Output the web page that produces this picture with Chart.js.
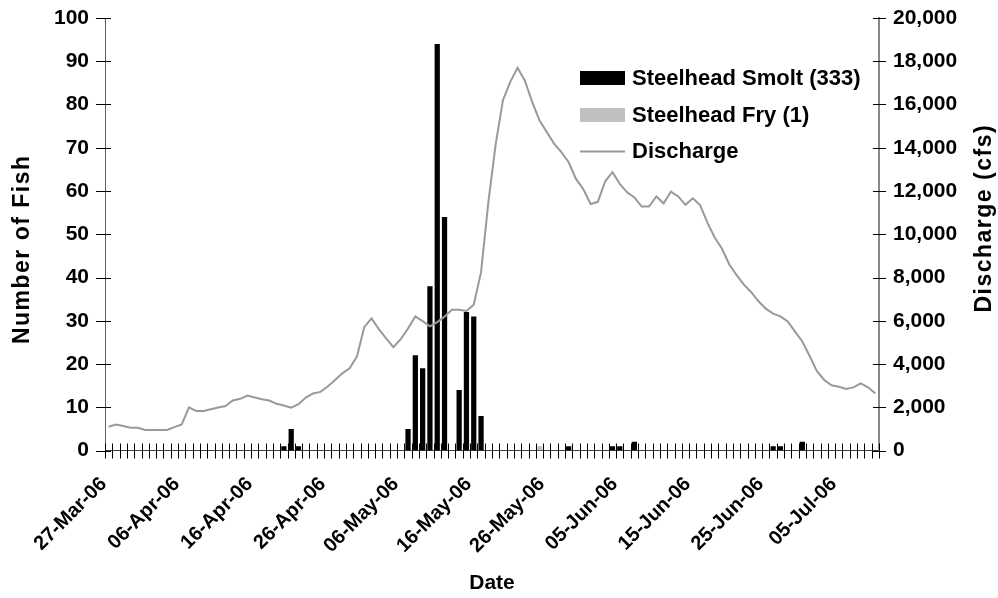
<!DOCTYPE html>
<html>
<head>
<meta charset="utf-8">
<script src="https://cdn.jsdelivr.net/npm/chart.js@4.4.1/dist/chart.umd.min.js"></script>
<style>
    html, body { margin: 0; padding: 0; background: #ffffff; }
    #wrap { width: 998px; height: 598px; }
</style>
</head>
<body>
<div id="wrap"><canvas id="fish_graph" width="998" height="598"></canvas></div>
<script>
// 日付 (27-Mar-06 〜 10-Jul-06)
const dates = [
    '27-Mar-06', '28-Mar-06', '29-Mar-06', '30-Mar-06', '31-Mar-06',
    '01-Apr-06', '02-Apr-06', '03-Apr-06', '04-Apr-06', '05-Apr-06', '06-Apr-06', '07-Apr-06', '08-Apr-06', '09-Apr-06', '10-Apr-06',
    '11-Apr-06', '12-Apr-06', '13-Apr-06', '14-Apr-06', '15-Apr-06', '16-Apr-06', '17-Apr-06', '18-Apr-06', '19-Apr-06', '20-Apr-06',
    '21-Apr-06', '22-Apr-06', '23-Apr-06', '24-Apr-06', '25-Apr-06', '26-Apr-06', '27-Apr-06', '28-Apr-06', '29-Apr-06', '30-Apr-06',
    '01-May-06', '02-May-06', '03-May-06', '04-May-06', '05-May-06', '06-May-06', '07-May-06', '08-May-06', '09-May-06', '10-May-06',
    '11-May-06', '12-May-06', '13-May-06', '14-May-06', '15-May-06', '16-May-06', '17-May-06', '18-May-06', '19-May-06', '20-May-06',
    '21-May-06', '22-May-06', '23-May-06', '24-May-06', '25-May-06', '26-May-06', '27-May-06', '28-May-06', '29-May-06', '30-May-06', '31-May-06',
    '01-Jun-06', '02-Jun-06', '03-Jun-06', '04-Jun-06', '05-Jun-06', '06-Jun-06', '07-Jun-06', '08-Jun-06', '09-Jun-06', '10-Jun-06',
    '11-Jun-06', '12-Jun-06', '13-Jun-06', '14-Jun-06', '15-Jun-06', '16-Jun-06', '17-Jun-06', '18-Jun-06', '19-Jun-06', '20-Jun-06',
    '21-Jun-06', '22-Jun-06', '23-Jun-06', '24-Jun-06', '25-Jun-06', '26-Jun-06', '27-Jun-06', '28-Jun-06', '29-Jun-06', '30-Jun-06',
    '01-Jul-06', '02-Jul-06', '03-Jul-06', '04-Jul-06', '05-Jul-06', '06-Jul-06', '07-Jul-06', '08-Jul-06', '09-Jul-06', '10-Jul-06'
];

// x軸に表示するラベル
const tickLabels = [
    '27-Mar-06', '06-Apr-06', '16-Apr-06', '26-Apr-06', '06-May-06', '16-May-06',
    '26-May-06', '05-Jun-06', '15-Jun-06', '25-Jun-06', '05-Jul-06'
];

// 1日あたりの捕獲数
const smolt = [
    0, 0, 0, 0, 0, 0, 0, 0, 0, 0,
    0, 0, 0, 0, 0, 0, 0, 0, 0, 0,
    0, 0, 0, 0, 1, 5, 1, 0, 0, 0,
    0, 0, 0, 0, 0, 0, 0, 0, 0, 0,
    0, 5, 22, 19, 38, 94, 54, 0, 14, 32,
    31, 8, 0, 0, 0, 0, 0, 0, 0, 0,
    0, 0, 0, 1, 0, 0, 0, 0, 0, 1,
    1, 0, 2, 0, 0, 0, 0, 0, 0, 0,
    0, 0, 0, 0, 0, 0, 0, 0, 0, 0,
    0, 1, 1, 0, 0, 2, 0, 0, 0, 0,
    0, 0, 0, 0, 0, 0
];
const fry = [
    0, 0, 0, 0, 0, 0, 0, 0, 0, 0,
    0, 0, 0, 0, 0, 0, 0, 0, 0, 0,
    0, 0, 0, 0, 0, 0, 0, 0, 0, 0,
    0, 0, 0, 0, 0, 0, 0, 0, 0, 0,
    0, 0, 0, 0, 0, 0, 0, 0, 0, 0,
    0, 0, 0, 0, 0, 0, 0, 0, 0, 1,
    0, 0, 0, 0, 0, 0, 0, 0, 0, 0,
    0, 0, 0, 0, 0, 0, 0, 0, 0, 0,
    0, 0, 0, 0, 0, 0, 0, 0, 0, 0,
    0, 0, 0, 0, 0, 0, 0, 0, 0, 0,
    0, 0, 0, 0, 0, 0
];

// 流量 (cfs)
const discharge = [
    1100, 1200, 1130, 1050, 1050, 950, 950, 950, 950, 1080,
    1200, 2000, 1830, 1830, 1910, 1990, 2060, 2310, 2390, 2540,
    2450, 2370, 2310, 2160, 2080, 1980, 2140, 2450, 2640, 2710,
    2960, 3260, 3570, 3800, 4340, 5700, 6110, 5610, 5180, 4780,
    5150, 5640, 6200, 5980, 5740, 5940, 6190, 6510, 6510, 6450,
    6740, 8250, 11470, 14150, 16200, 17050, 17700, 17100, 16120, 15270,
    14730, 14190, 13800, 13330, 12560, 12090, 11400, 11500, 12450, 12870,
    12330, 11940, 11700, 11280, 11280, 11750, 11430, 11970, 11750, 11360,
    11660, 11350, 10540, 9850, 9330, 8600, 8110, 7670, 7320, 6900,
    6560, 6330, 6200, 5970, 5500, 5040, 4370, 3670, 3260, 3020,
    2950, 2850, 2920, 3100, 2920, 2640
];

const leftTitle = 'Number of Fish';
const rightTitle = 'Discharge (cfs)';
const FONT = '"Liberation Sans", Arial, sans-serif';

Chart.defaults.font.family = FONT;
Chart.defaults.color = '#000000';

// 軸をまたぐ目盛り線 (Excel風)
const axisMarks = {
    id: 'axisMarks',
    afterDraw(chart) {
        const ctx = chart.ctx;
        const area = chart.chartArea;
        const xs = chart.scales.x;
        const ys = chart.scales.y;
        const ys2 = chart.scales.y1;
        ctx.save();
        ctx.strokeStyle = '#000000';
        ctx.lineWidth = 1;
        ctx.beginPath();
        for (let i = 0; i <= dates.length; i++) {
            const px = Math.round(xs.getPixelForValue(i - 0.5)) + 0.5;
            ctx.moveTo(px, area.bottom - 7);
            ctx.lineTo(px, area.bottom + 8);
        }
        ys.ticks.forEach(t => {
            const py = Math.round(ys.getPixelForValue(t.value)) + 0.5;
            ctx.moveTo(area.left - 9, py);
            ctx.lineTo(area.left + 6, py);
        });
        ys2.ticks.forEach(t => {
            const py = Math.round(ys2.getPixelForValue(t.value)) + 0.5;
            ctx.moveTo(area.right - 6, py);
            ctx.lineTo(area.right + 7, py);
        });
        ctx.stroke();
        ctx.restore();

        // 縦軸タイトル (どちらも下から上へ)
        drawVerticalTitle(ctx, leftTitle, 23, (area.top + area.bottom) / 2 + 15);
        drawVerticalTitle(ctx, rightTitle, 985, (area.top + area.bottom) / 2 - 16);
    }
};

function drawVerticalTitle(ctx, text, x, y) {
    ctx.save();
    ctx.translate(x, y);
    ctx.rotate(-Math.PI / 2);
    ctx.font = 'bold 23px ' + FONT;
    if ('letterSpacing' in ctx) ctx.letterSpacing = '1.5px';
    ctx.textAlign = 'center';
    ctx.textBaseline = 'middle';
    ctx.fillStyle = '#000000';
    ctx.fillText(text, 0, 0);
    ctx.restore();
}

// 凡例をプロット内の右上に描く
const plotLegend = {
    id: 'plotLegend',
    afterDraw(chart) {
        const ctx = chart.ctx;
        const rows = [[78, 85], [115, 121.5], [151.5, 157.5]];
        ctx.save();
        ctx.font = 'bold 22px ' + FONT;
        ctx.textBaseline = 'alphabetic';
        chart.data.datasets.forEach((ds, i) => {
            const [mid, base] = rows[i];
            if (ds.type === 'line') {
                ctx.strokeStyle = ds.borderColor;
                ctx.lineWidth = 2;
                ctx.beginPath();
                ctx.moveTo(580, mid);
                ctx.lineTo(625, mid);
                ctx.stroke();
            } else {
                ctx.fillStyle = ds.backgroundColor;
                ctx.fillRect(580, mid - 7, 45, 14);
            }
            ctx.fillStyle = '#000000';
            ctx.fillText(ds.label, 632, base);
        });
        ctx.restore();
    }
};

// 縦軸の上下余白を消してプロット領域を固定する
function fixVerticalScale(width) {
    return scale => {
        scale.width = width;
        scale.paddingTop = 0;
        scale.paddingBottom = 0;
    };
}

function drawChart() {
    const ctx = document.getElementById('fish_graph').getContext('2d');
    new Chart(ctx, {
        type: 'bar',
        data: {
            labels: dates,
            datasets: [
                {
                    type: 'bar',
                    label: 'Steelhead Smolt (333)',
                    data: smolt,
                    backgroundColor: '#000000',
                    borderWidth: 0,
                    grouped: false,
                    barPercentage: 0.72,
                    categoryPercentage: 1,
                    yAxisID: 'y',
                    order: 1
                },
                {
                    type: 'bar',
                    label: 'Steelhead Fry (1)',
                    data: fry,
                    backgroundColor: '#c0c0c0',
                    borderWidth: 0,
                    grouped: false,
                    barPercentage: 0.72,
                    categoryPercentage: 1,
                    yAxisID: 'y',
                    order: 1
                },
                {
                    type: 'line',
                    label: 'Discharge',
                    data: discharge,
                    borderColor: '#999999',
                    borderWidth: 2,
                    pointRadius: 0,
                    tension: 0,
                    fill: false,
                    yAxisID: 'y1',
                    order: 0
                }
            ]
        },
        options: {
            responsive: false,
            animation: false,
            devicePixelRatio: 1,
            layout: { padding: { top: 18, left: 0, right: 0, bottom: 0 } },
            plugins: {
                legend: { display: false },
                tooltip: { enabled: false }
            },
            scales: {
                x: {
                    type: 'category',
                    offset: true,
                    grid: { display: false, drawTicks: false },
                    border: { display: true, color: '#404040', width: 1 },
                    ticks: {
                        autoSkip: false,
                        minRotation: 45,
                        maxRotation: 45,
                        padding: 22,
                        labelOffset: -5,
                        font: { size: 20, weight: 'bold' },
                        callback: (value, index) => tickLabels.includes(dates[index]) ? dates[index] : ''
                    },
                    title: {
                        display: true,
                        text: 'Date',
                        font: { size: 21, weight: 'bold' },
                        padding: { top: 0, bottom: 2 }
                    },
                    afterFit: scale => { scale.height = 147.5; }
                },
                y: {
                    position: 'left',
                    min: 0,
                    max: 100,
                    grid: { display: false, drawTicks: false },
                    border: { display: true, color: '#606060', width: 1 },
                    ticks: {
                        stepSize: 10,
                        padding: 16,
                        font: { size: 21, weight: 'bold' }
                    },
                    afterFit: fixVerticalScale(105)
                },
                y1: {
                    position: 'right',
                    min: 0,
                    max: 20000,
                    grid: { display: false, drawTicks: false },
                    border: { display: true, color: '#888888', width: 2 },
                    ticks: {
                        stepSize: 2000,
                        padding: 14,
                        font: { size: 21, weight: 'bold' },
                        callback: value => value.toLocaleString('en-US')
                    },
                    afterFit: fixVerticalScale(119)
                }
            }
        },
        plugins: [axisMarks, plotLegend]
    });
}

drawChart();
</script>
</body>
</html>
